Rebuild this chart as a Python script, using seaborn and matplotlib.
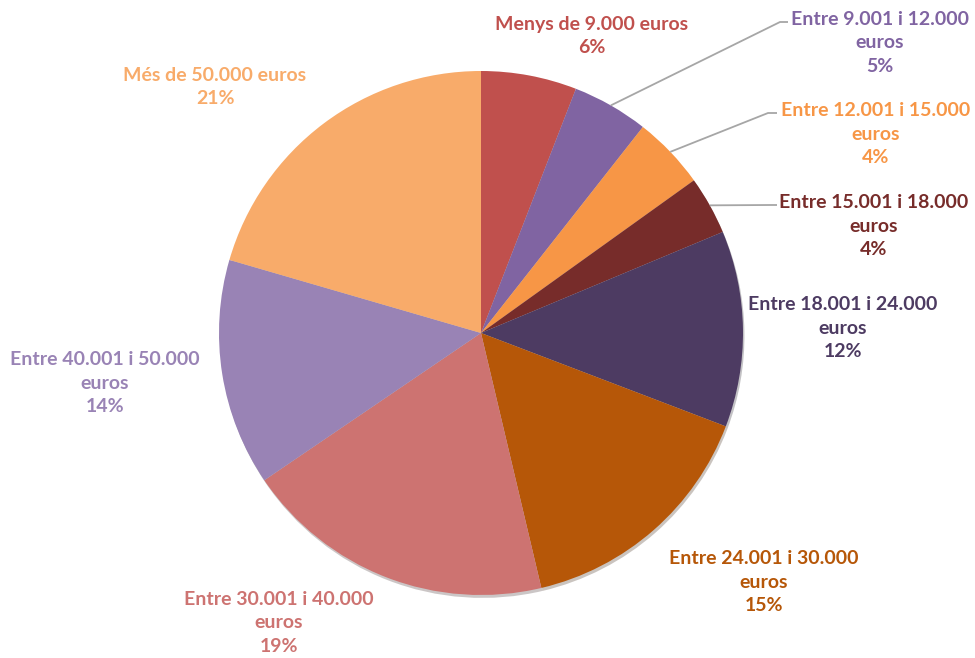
import numpy as np
import seaborn as sns
import matplotlib.pyplot as plt

# slice data (clockwise from 12 o'clock)
categories = [
    "Menys de 9.000 euros",
    "Entre 9.001 i 12.000\neuros",
    "Entre 12.001 i 15.000\neuros",
    "Entre 15.001 i 18.000\neuros",
    "Entre 18.001 i 24.000\neuros",
    "Entre 24.001 i 30.000\neuros",
    "Entre 30.001 i 40.000\neuros",
    "Entre 40.001 i 50.000\neuros",
    "Més de 50.000 euros",
]
shares = [5.9, 4.7, 4.5, 3.6, 12.1, 15.5, 19.2, 14.0, 20.5]
pct_labels = ["6%", "5%", "4%", "4%", "12%", "15%", "19%", "14%", "21%"]
colors = ["#C0504D", "#8064A2", "#F79646", "#772C2A", "#4D3B62",
          "#B65708", "#CD7371", "#9983B5", "#F8AB6A"]

# label centres in pixel coords of the 975x658 picture
label_px = [(592, 36), (880, 43), (876, 134), (874, 226), (843, 328),
            (764, 582), (279, 623), (105, 383), (215, 87)]
# leader line elbows / ends (pixel coords) for the small slices
leaders = {1: [(780, 22), (788, 22)],
           2: [(768, 113), (777, 113)],
           3: [(770, 205), (777, 205)]}

W, H = 975, 658
CX, CY, R = 481, 333, 262


def to_data(p):
    return (p[0] - CX) / R, (CY - p[1]) / R


sns.set_theme(style="white")
plt.rcParams["font.family"] = ["Lato", "DejaVu Sans"]
palette = sns.color_palette(colors)

fig = plt.figure(figsize=(W / 100, H / 100), dpi=100)
ax = fig.add_axes([0, 0, 1, 1])

wedges, _ = ax.pie(shares, colors=palette, startangle=90, counterclock=False,
                   radius=1, center=(0, 0), frame=True,
                   wedgeprops=dict(linewidth=0, edgecolor="none"),
                   shadow=dict(ox=0.004, oy=-0.008, shade=0.75, alpha=0.25))
ax.set_xlim(-CX / R, (W - CX) / R)
ax.set_ylim(-(H - CY) / R, CY / R)
ax.set_aspect("equal")
ax.axis("off")

for i, (cat, pct, col) in enumerate(zip(categories, pct_labels, colors)):
    x, y = to_data(label_px[i])
    ax.text(x, y, cat + "\n" + pct, ha="center", va="center", color=col,
            fontsize=14, fontweight="bold", linespacing=1.45)
    if i in leaders:
        w = wedges[i]
        mid = np.deg2rad((w.theta1 + w.theta2) / 2)
        pts = [(np.cos(mid), np.sin(mid))] + [to_data(p) for p in leaders[i]]
        xs, ys = zip(*pts)
        ax.plot(xs, ys, color="#A6A6A6", lw=1.3, solid_capstyle="butt")

fig.savefig("out.png", dpi=100)
